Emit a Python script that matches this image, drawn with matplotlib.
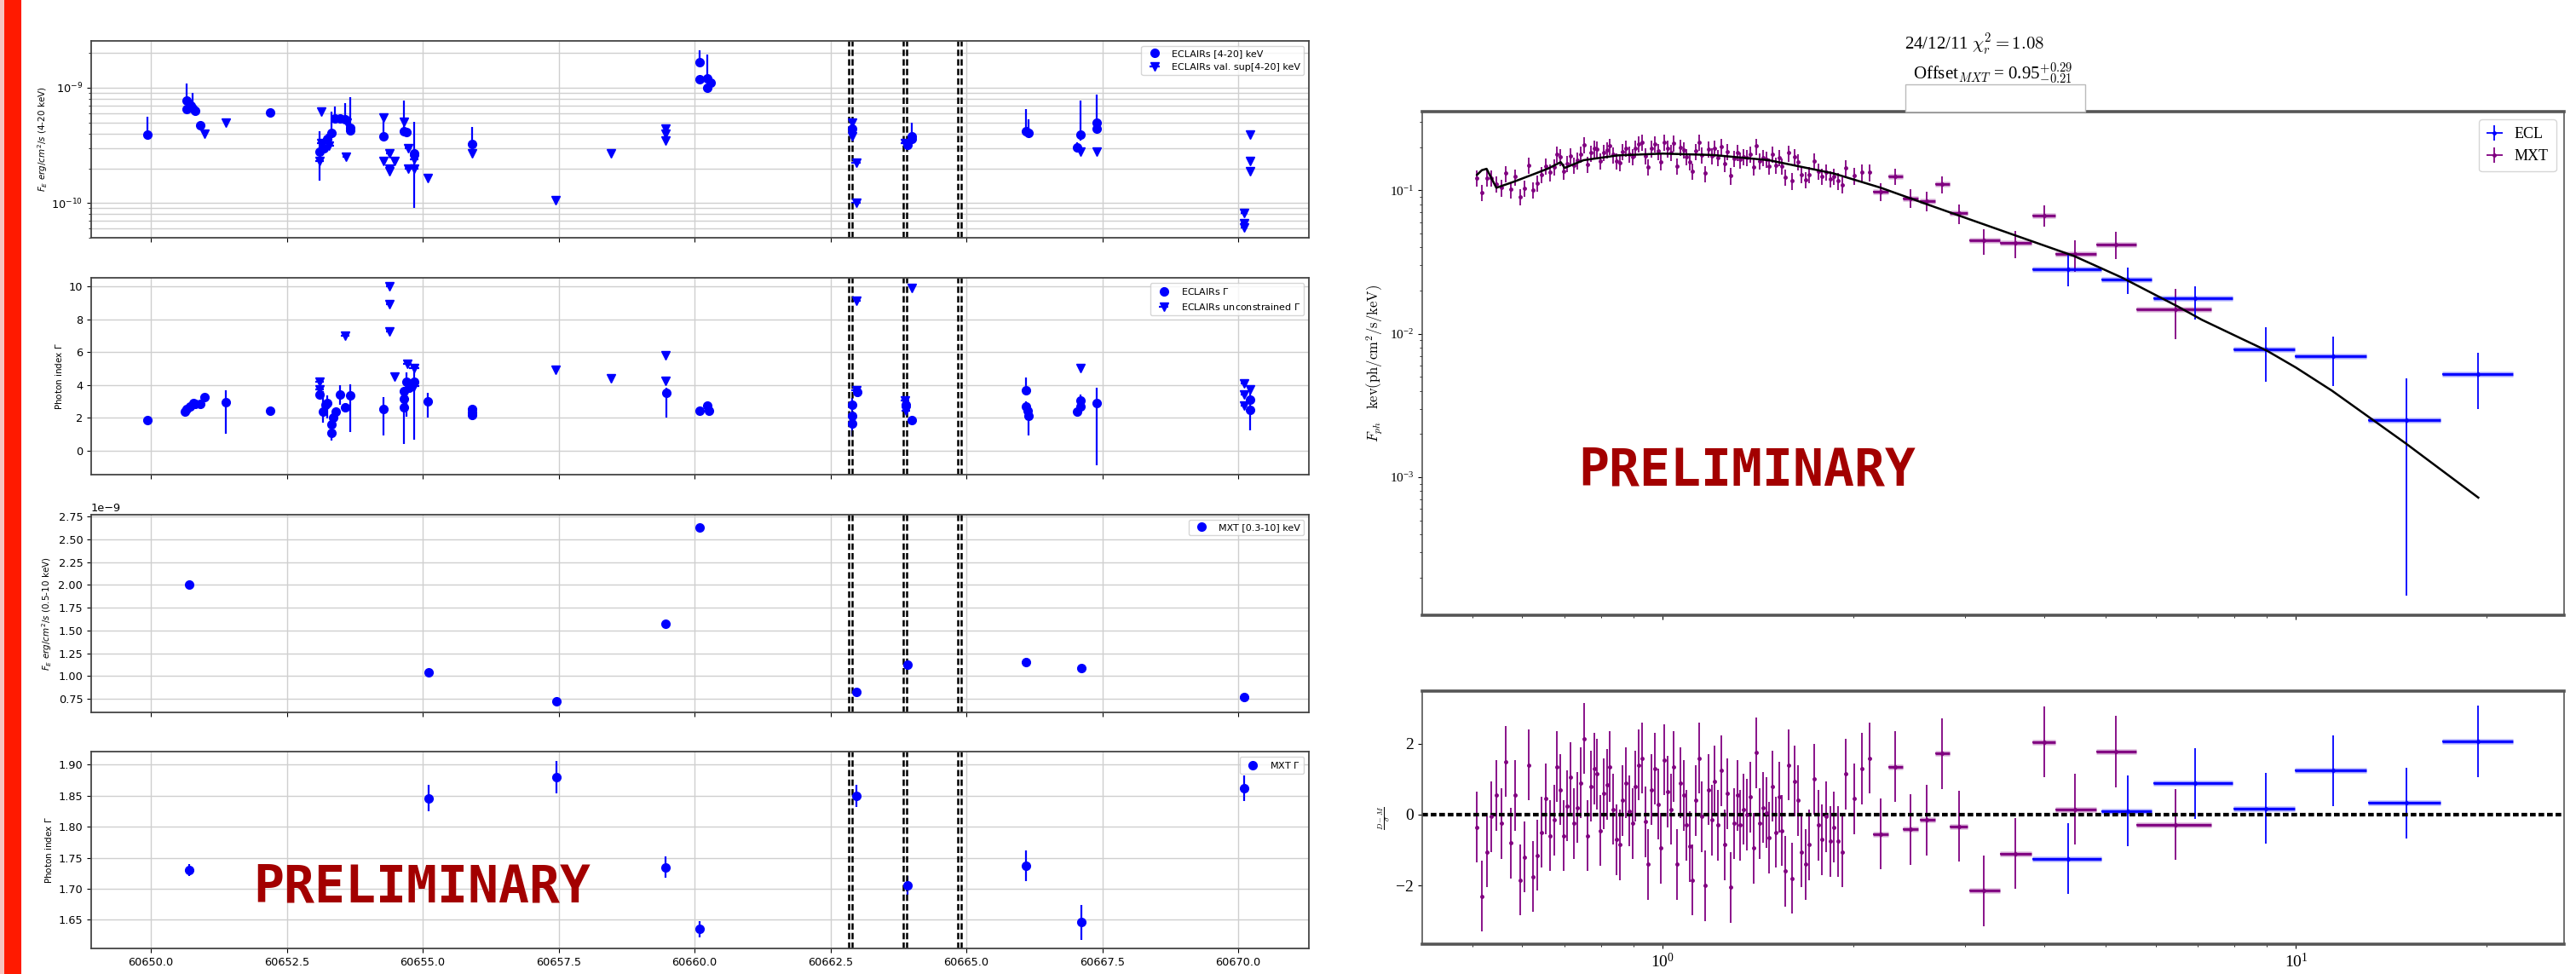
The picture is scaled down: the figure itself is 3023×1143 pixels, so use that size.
import numpy as np
import matplotlib
matplotlib.use("Agg")
import matplotlib.pyplot as plt
from matplotlib.patches import Rectangle

# ======================= LEFT COLUMN DATA (light curves) =======================
# ECLAIRs 4-20 keV flux detections (units of 1e-10 erg/cm2/s)
ecl_t = [60649.93, 60650.65, 60650.66, 60650.74, 60650.76, 60650.82, 60650.90, 60652.19,
         60653.10, 60653.18, 60653.24, 60653.32, 60653.38, 60653.48, 60653.57, 60653.66,
         60653.66, 60654.27, 60654.65, 60654.70, 60654.84, 60655.91, 60660.10, 60660.10,
         60660.23, 60660.23, 60660.30, 60662.90, 60663.91, 60663.99, 60664.00, 60666.10,
         60666.15, 60667.03, 60667.10, 60667.39, 60667.39]
ecl_f = [3.9, 7.7, 6.5, 7.0, 6.7, 6.3, 4.75, 6.1, 2.77, 3.0, 3.6, 4.06, 5.4, 5.4, 5.3, 4.24,
         4.5, 3.8, 4.2, 4.1, 2.7, 3.25, 16.8, 11.8, 12.0, 10.0, 11.1, 4.45, 3.2, 3.8, 3.6,
         4.2, 4.05, 3.05, 3.9, 4.97, 4.45]
ecl_f_hi = [1.7, 3.1, 0.6, 0.6, 2.4, 0.5, 0.35, 0.3, 1.4, 0.4, 0.4, 2.2, 1.5, 0.4, 2.1, 4.0,
            0.4, 1.7, 3.5, 0.3, 2.4, 1.35, 4.2, 0.8, 7.3, 0.6, 0.7, 0.4, 0.3, 1.2, 0.3,
            2.3, 1.3, 0.3, 3.8, 3.8, 0.4]
ecl_f_lo = [0.35, 0.6, 0.5, 0.5, 0.5, 0.4, 0.35, 0.3, 1.2, 0.3, 0.4, 0.4, 0.4, 0.4, 0.4, 0.4,
            0.3, 0.3, 0.3, 0.3, 1.8, 0.3, 1.5, 0.8, 1.0, 0.6, 0.7, 0.4, 0.3, 0.3, 0.3,
            0.3, 0.3, 0.3, 0.4, 0.4, 0.4]
# ECLAIRs 4-20 keV upper limits (1e-10) and time half-widths
ecl_ul_t = [60650.98, 60651.37, 60653.14, 60653.10, 60653.13, 60653.28, 60653.60, 60653.58,
            60654.27, 60654.27, 60654.38, 60654.38, 60654.38, 60654.48, 60654.65, 60654.73,
            60654.73, 60654.84, 60654.84, 60655.09, 60655.91, 60657.44, 60658.46, 60659.46,
            60659.46, 60659.46, 60662.90, 60662.90, 60662.97, 60662.97, 60663.87, 60667.10,
            60667.39, 60670.22, 60670.22, 60670.22, 60670.11, 60670.11, 60670.11]
ecl_ul_f = [4.0, 5.0, 6.2, 2.3, 3.3, 3.15, 5.0, 2.5, 5.5, 2.3, 2.7, 2.0, 1.9, 2.3, 5.1, 3.0,
            2.0, 2.4, 2.0, 1.66, 2.7, 1.05, 2.7, 4.4, 4.0, 3.5, 5.0, 3.8, 2.25, 1.0, 3.28,
            2.77, 2.77, 3.9, 2.3, 1.9, 0.82, 0.67, 0.61]
ecl_ul_dt = [0, 0, 0, 0.08, 0.08, 0.08, 0, 0.06, 0, 0, 0.06, 0, 0, 0, 0, 0.06, 0.06, 0.08,
             0.08, 0, 0, 0, 0, 0, 0, 0, 0, 0, 0.08, 0.08, 0.08, 0, 0, 0, 0, 0, 0.06, 0.06, 0.06]

# ECLAIRs photon index
gam_t = [60649.93, 60650.62, 60650.66, 60650.72, 60650.78, 60650.82, 60650.90, 60650.98,
         60651.37, 60652.19, 60653.10, 60653.16, 60653.21, 60653.24, 60653.32, 60653.32,
         60653.35, 60653.40, 60653.48, 60653.57, 60653.66, 60654.27, 60654.65, 60654.65,
         60654.65, 60654.70, 60654.75, 60654.84, 60655.09, 60655.91, 60655.91, 60655.91,
         60659.48, 60660.10, 60660.23, 60660.27, 60662.90, 60662.90, 60662.90, 60662.99,
         60663.89, 60664.00, 60666.10, 60666.10, 60666.12, 60666.15, 60667.03, 60667.10,
         60667.10, 60667.39, 60670.22, 60670.22]
gam_v = [1.87, 2.39, 2.53, 2.70, 2.87, 2.84, 2.84, 3.27, 2.96, 2.40, 3.43, 2.39, 2.79, 2.87,
         1.61, 1.06, 2.0, 2.35, 3.39, 2.61, 3.34, 2.53, 2.61, 3.13, 3.60, 4.17, 3.82, 4.17,
         2.99, 2.53, 2.32, 2.15, 3.51, 2.44, 2.73, 2.44, 2.79, 2.09, 1.66, 3.56, 2.79, 1.87,
         3.65, 2.70, 2.44, 2.09, 2.35, 2.70, 3.04, 2.91, 3.08, 2.47]
gam_hi = [0.15, 0.2, 0.2, 0.2, 0.15, 0.15, 0.15, 0.2, 0.7, 0.15, 0.3, 1.25, 0.3, 0.5, 0.3,
          0.3, 0.3, 0.2, 0.6, 0.3, 0.7, 0.7, 1.1, 0.3, 0.3, 0.6, 0.3, 0.87, 0.5, 0.2, 0.2,
          0.2, 0.3, 0.15, 0.2, 0.15, 0.4, 0.2, 0.2, 0.3, 0.3, 0.15, 0.8, 0.3, 0.2, 0.2, 0.2,
          0.3, 0.35, 0.9, 0.3, 1.25]
gam_lo = [0.15, 0.2, 0.2, 0.2, 0.15, 0.15, 0.15, 0.2, 1.95, 0.15, 0.3, 0.7, 0.3, 0.9, 0.3,
          0.45, 0.3, 0.2, 0.6, 0.3, 2.2, 1.6, 2.2, 0.3, 0.3, 2.1, 0.3, 3.5, 1.0, 0.2, 0.2,
          0.2, 1.5, 0.15, 0.2, 0.15, 0.4, 0.2, 0.8, 0.3, 0.3, 0.15, 0.3, 0.3, 0.2, 1.15, 0.3,
          0.3, 0.3, 3.8, 0.3, 1.25]
# unconstrained photon indices
gam_ul_t = [60653.10, 60653.10, 60653.57, 60654.38, 60654.38, 60654.38, 60654.48, 60654.72,
            60654.84, 60654.84, 60657.44, 60658.46, 60659.46, 60659.46, 60662.97, 60662.97,
            60663.87, 60663.89, 60664.00, 60667.10, 60670.11, 60670.11, 60670.11, 60670.22]
gam_ul_v = [4.17, 3.74, 6.97, 10.0, 8.9, 7.23, 4.52, 5.29, 5.03, 3.91, 4.91, 4.39, 5.81, 4.26,
            9.13, 3.65, 3.04, 2.44, 9.88, 5.03, 4.08, 3.43, 2.75, 3.74]
gam_ul_dt = [0.08, 0.08, 0.08, 0.06, 0.06, 0.06, 0, 0.08, 0.1, 0.1, 0, 0, 0, 0, 0.08, 0.08,
             0.08, 0.08, 0, 0, 0.06, 0.06, 0.06, 0]

# MXT light curve
mxt_t = [60650.70, 60655.10, 60657.46, 60659.47, 60660.10, 60662.97, 60663.91, 60666.10,
         60667.11, 60670.11]
mxt_flux = [2.00, 1.04, 0.725, 1.57, 2.63, 0.82, 1.124, 1.149, 1.09, 0.77]      # 1e-9
mxt_flux_err = [0.02, 0.015, 0.012, 0.02, 0.025, 0.012, 0.015, 0.015, 0.015, 0.012]
mxt_gam = [1.730, 1.846, 1.880, 1.735, 1.635, 1.850, 1.705, 1.737, 1.646, 1.862]
mxt_gam_err = [0.010, 0.021, 0.026, 0.017, 0.013, 0.018, 0.015, 0.025, 0.028, 0.020]

slew_times = [60662.87, 60663.87, 60664.87]
lc_xticks = [60650.0, 60652.5, 60655.0, 60657.5, 60660.0, 60662.5, 60665.0, 60667.5, 60670.0]

# ======================= RIGHT COLUMN DATA (spectrum) =======================
mxt_e = [0.5088, 0.5178, 0.5270, 0.5363, 0.5458, 0.5554, 0.5652, 0.5752, 0.5853, 0.5957,
         0.6044, 0.6151, 0.6241, 0.6332, 0.6444, 0.6538, 0.6634, 0.6731, 0.6809, 0.6889,
         0.6970, 0.7072, 0.7155, 0.7239, 0.7323, 0.7410, 0.7519, 0.7607, 0.7696, 0.7787,
         0.7878, 0.7970, 0.8064, 0.8158, 0.8254, 0.8351, 0.8448, 0.8546, 0.8646, 0.8748,
         0.8849, 0.8953, 0.9058, 0.9165, 0.9271, 0.9380, 0.9489, 0.9600, 0.9714, 0.9826,
         0.9942, 1.0058, 1.0177, 1.0295, 1.0416, 1.0539, 1.0661, 1.0787, 1.0912, 1.1041,
         1.1139, 1.1268, 1.1401, 1.1533, 1.1669, 1.1807, 1.1944, 1.2085, 1.2225, 1.2369,
         1.2513, 1.2661, 1.2810, 1.2959, 1.3112, 1.3264, 1.3421, 1.3576, 1.3737, 1.3899,
         1.4060, 1.4223, 1.4388, 1.4558, 1.4727, 1.4901, 1.5077, 1.5252, 1.5432, 1.5611,
         1.5795, 1.5979, 1.6168, 1.6359, 1.6548, 1.6788, 1.7037, 1.7337, 1.7593, 1.7852,
         1.8113, 1.8378, 1.8648, 1.8923, 1.9194, 1.9476, 2.0049, 2.0643, 2.1192]
mxt_fl = [0.122, 0.096, 0.122, 0.122, 0.111, 0.104, 0.131, 0.101, 0.124, 0.090,
          0.103, 0.149, 0.100, 0.112, 0.128, 0.148, 0.133, 0.145, 0.179, 0.170,
          0.136, 0.154, 0.173, 0.150, 0.161, 0.179, 0.207, 0.151, 0.182, 0.195,
          0.193, 0.160, 0.184, 0.191, 0.203, 0.177, 0.159, 0.156, 0.185, 0.197,
          0.178, 0.171, 0.195, 0.210, 0.215, 0.174, 0.146, 0.195, 0.210, 0.187,
          0.158, 0.216, 0.195, 0.184, 0.212, 0.147, 0.200, 0.192, 0.172, 0.158,
          0.136, 0.187, 0.215, 0.176, 0.131, 0.193, 0.173, 0.197, 0.168, 0.202,
          0.154, 0.186, 0.126, 0.166, 0.183, 0.163, 0.172, 0.168, 0.178, 0.146,
          0.203, 0.159, 0.168, 0.164, 0.148, 0.178, 0.149, 0.168, 0.148, 0.123,
          0.182, 0.116, 0.170, 0.157, 0.128, 0.119, 0.129, 0.160, 0.135, 0.125,
          0.134, 0.120, 0.125, 0.116, 0.109, 0.143, 0.126, 0.133, 0.133]
mxt_res = [-0.35, -2.3, -1.05, -0.05, 0.55, -0.25, 1.5, -0.8, 0.55, -1.85,
           -1.2, 1.4, -1.75, -1.15, -0.5, 0.45, -0.6, -0.15, 1.35, 0.7,
           -0.6, 0.25, 1.05, -0.25, 0.2, 0.9, 2.15, -0.6, 0.8, 1.3,
           1.15, -0.45, 0.6, 0.85, 1.35, 0.15, -0.7, -0.85, 0.4, 0.9,
           0.1, -0.25, 0.8, 1.4, 1.6, -0.2, -1.4, 0.7, 1.3, 0.3,
           -0.95, 1.55, 0.65, 0.15, 1.35, -1.4, 0.9, 0.55, -0.3, -0.9,
           -1.85, 0.4, 1.6, -0.05, -2.0, 0.7, -0.15, 0.95, -0.3, 1.25,
           -0.85, 0.6, -2.05, -0.25, 0.55, -0.3, 0.15, 0.0, 0.5, -0.95,
           1.75, -0.25, 0.2, 0.05, -0.65, 0.8, -0.5, 0.5, -0.45, -1.6,
           1.4, -1.8, 0.95, 0.4, -1.05, -1.4, -0.85, 1.0, -0.3, -0.7,
           -0.05, -0.75, -0.35, -0.75, -1.05, 1.15, 0.45, 1.3, 1.6]
mxt_rel_err = 0.13

mxtb_e = [2.21, 2.33, 2.46, 2.61, 2.76, 2.94, 3.21, 3.60, 4.00, 4.48, 5.20, 6.46]
mxtb_lo = [2.15, 2.27, 2.39, 2.55, 2.69, 2.84, 3.05, 3.41, 3.83, 4.17, 4.83, 5.59]
mxtb_hi = [2.27, 2.39, 2.53, 2.69, 2.84, 3.03, 3.41, 3.82, 4.17, 4.83, 5.59, 7.35]
mxtb_f = [0.098, 0.125, 0.088, 0.084, 0.110, 0.069, 0.0445, 0.0428, 0.067, 0.036, 0.042, 0.0148]
mxtb_ferr = [0.014, 0.016, 0.013, 0.013, 0.015, 0.011, 0.009, 0.009, 0.011, 0.009, 0.009, 0.0057]
mxtb_res = [-0.55, 1.35, -0.42, -0.15, 1.73, -0.33, -2.15, -1.1, 2.05, 0.15, 1.78, -0.28]

eclb_e = [4.36, 5.43, 6.93, 8.95, 11.46, 14.94, 19.4]
eclb_lo = [3.83, 4.93, 5.95, 7.96, 9.96, 13.0, 17.0]
eclb_hi = [4.93, 5.91, 7.93, 9.96, 12.9, 16.9, 22.0]
eclb_f = [0.0283, 0.024, 0.0176, 0.0078, 0.0070, 0.0025, 0.0052]
eclb_flo = [0.0215, 0.019, 0.0125, 0.0046, 0.0043, 0.00015, 0.0030]
eclb_fhi = [0.0358, 0.029, 0.0215, 0.0111, 0.0095, 0.0049, 0.0074]
eclb_res = [-1.25, 0.1, 0.88, 0.17, 1.25, 0.33, 2.07]

model_e = [0.509, 0.518, 0.527, 0.546, 0.58, 0.63, 0.66, 0.69, 0.70, 0.75, 0.85, 1.0, 1.2,
           1.47, 1.86, 2.21, 2.63, 3.42, 4.46, 5.3, 6.5, 7.1, 8.3, 9.0, 10.0, 11.4, 14.9, 19.4]
model_f = [0.128, 0.138, 0.141, 0.104, 0.114, 0.131, 0.142, 0.157, 0.143, 0.162, 0.175, 0.180,
           0.176, 0.162, 0.131, 0.104, 0.079, 0.0525, 0.0348, 0.0247, 0.0155, 0.0125, 0.0090,
           0.0076, 0.0058, 0.0040, 0.00172, 0.00072]

# ======================= FIGURE =======================
W, H, DPI = 3023, 1143, 100
fig = plt.figure(figsize=(W / DPI, H / DPI), dpi=DPI)
fig.patch.set_facecolor("white")


def box(x0, y0, x1, y1):
    return [x0 / W, 1 - y1 / H, (x1 - x0) / W, (y1 - y0) / H]


# red side bar
fig.patches.append(Rectangle((0, 0), 5 / W, 1, transform=fig.transFigure,
                             facecolor="#f6c4bf", edgecolor="none"))
fig.patches.append(Rectangle((5 / W, 0), 20 / W, 1, transform=fig.transFigure,
                             facecolor="#ff1a00", edgecolor="none"))

ax1 = fig.add_axes(box(107, 48, 1536, 279))
ax2 = fig.add_axes(box(107, 326, 1536, 557), sharex=ax1)
ax3 = fig.add_axes(box(107, 604, 1536, 836), sharex=ax1)
ax4 = fig.add_axes(box(107, 882, 1536, 1113), sharex=ax1)
left_axes = [ax1, ax2, ax3, ax4]

blue = "#0000ff"
kw = dict(color=blue, ms=7, elinewidth=1.6, capsize=0, linestyle="none")

ax1.errorbar(ecl_t, np.array(ecl_f) * 1e-10,
             yerr=[np.array(ecl_f_lo) * 1e-10, np.array(ecl_f_hi) * 1e-10],
             fmt="o", label="ECLAIRs [4-20] keV", **kw)
ax1.errorbar(ecl_ul_t, np.array(ecl_ul_f) * 1e-10, xerr=ecl_ul_dt, fmt="v",
             label="ECLAIRs val. sup[4-20] keV", **kw)
ax1.set_yscale("log")
ax1.set_ylim(5.0e-11, 2.55e-9)
ax1.set_ylabel(r"$F_E$ $erg/cm^2/s$ (4-20 keV)", fontsize=7.5, labelpad=2)

ax2.errorbar(gam_t, gam_v, yerr=[gam_lo, gam_hi], fmt="o", label=r"ECLAIRs $\Gamma$", **kw)
ax2.errorbar(gam_ul_t, gam_ul_v, xerr=gam_ul_dt, fmt="v",
             label=r"ECLAIRs unconstrained $\Gamma$", **kw)
ax2.set_ylim(-1.47, 10.52)
ax2.set_yticks([0, 2, 4, 6, 8, 10])
ax2.set_ylabel(r"Photon index $\Gamma$", fontsize=7.5)

ax3.errorbar(mxt_t, np.array(mxt_flux) * 1e-9, yerr=np.array(mxt_flux_err) * 1e-9, fmt="o",
             label="MXT [0.3-10] keV", **kw)
ax3.set_ylim(0.60e-9, 2.77e-9)
ax3.set_yticks(np.array([0.75, 1.0, 1.25, 1.5, 1.75, 2.0, 2.25, 2.5, 2.75]) * 1e-9)
ax3.set_ylabel(r"$F_E$ $erg/cm^2/s$ (0.5-10 keV)", fontsize=7.5)

ax4.errorbar(mxt_t, mxt_gam, yerr=mxt_gam_err, fmt="o", label=r"MXT $\Gamma$", **kw)
ax4.set_ylim(1.604, 1.921)
ax4.set_yticks([1.65, 1.70, 1.75, 1.80, 1.85, 1.90])
ax4.set_ylabel(r"Photon index $\Gamma$", fontsize=7.5)

ax4.set_xlim(60648.90, 60671.30)
ax4.set_xticks(lc_xticks)
ax4.ticklabel_format(axis="x", useOffset=False)

for i, ax in enumerate(left_axes):
    for t in slew_times:
        for d in (-0.03, 0.03):
            ax.axvline(t + d, color="black", ls="--", lw=1.8, dashes=(3, 1.5))
    ax.grid(True, which="major", color="#cfcfcf", lw=1.0)
    if i == 0:
        ax.grid(True, which="minor", axis="y", color="#cfcfcf", lw=1.0)
    ax.set_axisbelow(True)
    ax.tick_params(labelsize=9.3)
    ax.legend(loc="upper right", fontsize=8, framealpha=0.8)
    for sp in ax.spines.values():
        sp.set_color("#444444")
        sp.set_linewidth(1.3)
    if i < 3:
        ax.tick_params(labelbottom=False)
ax3.yaxis.get_offset_text().set_fontsize(9.3)

# PRELIMINARY stamps
stamp = dict(fontsize=43, fontweight="bold", color="#a30000", family="DejaVu Sans Mono",
             ha="center", va="center")
fig.text(495 / W, 1 - 1042 / H, "PRELIMINARY", **stamp)

# ---------------- right column ----------------
axs = fig.add_axes(box(1669, 131, 3009, 722))
axr = fig.add_axes(box(1669, 811, 3009, 1108), sharex=axs)
serif = "Liberation Serif"
purple = "#800080"

axs.set_xscale("log")
axs.set_yscale("log")
axs.plot(model_e, model_f, color="black", lw=1.8, zorder=5)

mxt_fl_arr = np.array(mxt_fl)
axs.errorbar(mxt_e, mxt_fl, yerr=mxt_fl_arr * mxt_rel_err, fmt=".", color=purple, ms=5,
             elinewidth=1.3, capsize=0)
xe_m = [np.array(mxtb_e) - np.array(mxtb_lo), np.array(mxtb_hi) - np.array(mxtb_e)]
xe_e = [np.array(eclb_e) - np.array(eclb_lo), np.array(eclb_hi) - np.array(eclb_e)]
ye_e = [np.array(eclb_f) - np.array(eclb_flo), np.array(eclb_fhi) - np.array(eclb_f)]

h_mxt = axs.errorbar(mxtb_e, mxtb_f, xerr=xe_m, yerr=mxtb_ferr, fmt=".", color=purple, ms=5,
                     elinewidth=1.3, capsize=0)
axs.errorbar(mxtb_e, mxtb_f, xerr=xe_m, fmt="none", ecolor=purple, elinewidth=5, alpha=0.2)
axs.errorbar(mxtb_e, mxtb_f, xerr=xe_m, fmt="none", ecolor=purple, elinewidth=2.5, alpha=0.9)
h_ecl = axs.errorbar(eclb_e, eclb_f, xerr=xe_e, yerr=ye_e, fmt=".", color=blue, ms=5,
                     elinewidth=1.3, capsize=0)
axs.errorbar(eclb_e, eclb_f, xerr=xe_e, fmt="none", ecolor=blue, elinewidth=5, alpha=0.2)
axs.errorbar(eclb_e, eclb_f, xerr=xe_e, fmt="none", ecolor=blue, elinewidth=2.5, alpha=0.9)

axs.set_xlim(0.417, 26.5)
axs.set_ylim(1.09e-4, 0.353)
axs.set_ylabel(r"$F_{ph}\ \ \ \mathrm{kev(ph/cm^2/s/keV)}$", fontsize=12, math_fontfamily="cm")
axs.legend([h_ecl, h_mxt], ["ECL", "MXT"], loc="upper right",
           prop={"family": serif, "size": 13}, handlelength=1.0, borderpad=0.5)
axs.tick_params(labelbottom=False)
fig.text(2050 / W, 1 - 553 / H, "PRELIMINARY", **stamp)

axr.errorbar(mxt_e, mxt_res, yerr=1.0, fmt=".", color=purple, ms=5, elinewidth=1.3, capsize=0)
axr.errorbar(mxtb_e, mxtb_res, xerr=xe_m, yerr=1.0, fmt=".", color=purple, ms=5,
             elinewidth=1.3, capsize=0)
axr.errorbar(mxtb_e, mxtb_res, xerr=xe_m, fmt="none", ecolor=purple, elinewidth=5, alpha=0.2)
axr.errorbar(mxtb_e, mxtb_res, xerr=xe_m, fmt="none", ecolor=purple, elinewidth=2.5, alpha=0.9)
axr.errorbar(eclb_e, eclb_res, xerr=xe_e, yerr=1.0, fmt=".", color=blue, ms=5,
             elinewidth=1.3, capsize=0)
axr.errorbar(eclb_e, eclb_res, xerr=xe_e, fmt="none", ecolor=blue, elinewidth=5, alpha=0.2)
axr.errorbar(eclb_e, eclb_res, xerr=xe_e, fmt="none", ecolor=blue, elinewidth=2.5, alpha=0.9)
for d in (-0.035, 0.035):
    axr.axhline(d, color="black", ls="--", lw=1.6, dashes=(3, 1.5))
axr.set_ylim(-3.66, 3.49)
axr.set_yticks([-2, 0, 2])
axr.set_ylabel(r"$\frac{D-M}{\sigma}$", fontsize=9, math_fontfamily="cm")

for ax in (axs, axr):
    ax.tick_params(which="both", labelfontfamily=serif)
    ax.tick_params(which="major", labelsize=12 if ax is axr else 11)
    for name, sp in ax.spines.items():
        sp.set_color("#555555")
        sp.set_linewidth(2.6 if name in ("top", "bottom") else 1.2)
axr.tick_params(axis="both", labelsize=14)

# titles above spectrum
fig.text(2317 / W, 1 - 52 / H, r"24/12/11 $\chi_r^2 = 1.08$", ha="center", va="center",
         fontsize=15, family=serif, math_fontfamily="cm")
fig.text(2339 / W, 1 - 87 / H, r"Offset$_{MXT}$ = 0.95$^{+0.29}_{-0.21}$", ha="center",
         va="center", fontsize=15, family=serif, math_fontfamily="cm")
fig.patches.append(Rectangle((2236 / W, 1 - 131 / H), 211 / W, 32 / H, transform=fig.transFigure,
                             facecolor="white", edgecolor="#bbbbbb", lw=1))

fig.savefig("out.png", dpi=DPI, facecolor="white")
